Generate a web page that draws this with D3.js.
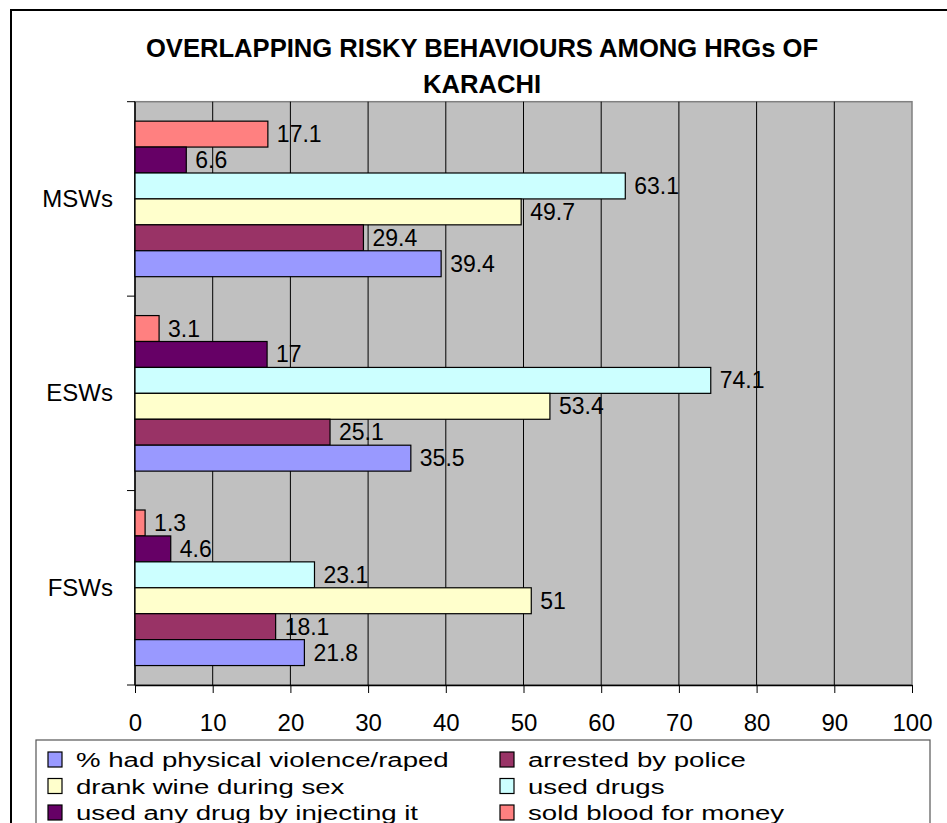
<!DOCTYPE html>
<html>
<head>
<meta charset="utf-8">
<script src="https://cdn.jsdelivr.net/npm/d3@7"></script>
<style>
  html, body { margin: 0; padding: 0; background: #fff; }
  svg { display: block; }
  text { font-family: Arial, "Liberation Sans", sans-serif; fill: #000; }
</style>
</head>
<body>
<svg id="chart" width="947" height="823"></svg>
<script>
const titleLines = ["OVERLAPPING RISKY BEHAVIOURS AMONG HRGs OF", "KARACHI"];
const categories = ["MSWs", "ESWs", "FSWs"];
const seriesNames = [
  "% had physical violence/raped",
  "arrested by police",
  "drank wine during sex",
  "used drugs",
  "used any drug by injecting it",
  "sold blood for money"
];
const seriesColors = ["#9999FF", "#993366", "#FFFFCC", "#CCFFFF", "#660066", "#FF8080"];
// values in order MSWs, ESWs, FSWs
const physicalViolence = [39.4, 35.5, 21.8];
const arrestedByPolice = [29.4, 25.1, 18.1];
const drankWine = [49.7, 53.4, 51];
const usedDrugs = [63.1, 74.1, 23.1];
const injectingDrugs = [6.6, 17, 4.6];
const soldBlood = [17.1, 3.1, 1.3];
const xTicks = [0, 10, 20, 30, 40, 50, 60, 70, 80, 90, 100];

const seriesValues = [physicalViolence, arrestedByPolice, drankWine, usedDrugs, injectingDrugs, soldBlood];

const svg = d3.select("#chart");

// outer chart border
svg.append("rect").attr("x", 11).attr("y", 10).attr("width", 942).attr("height", 830)
  .attr("fill", "#fff").attr("stroke", "#000").attr("stroke-width", 2);

// title
svg.append("g").selectAll("text").data(titleLines).join("text")
  .attr("x", 482).attr("y", (d, i) => 57 + i * 36)
  .attr("text-anchor", "middle")
  .attr("font-size", 25.6).attr("font-weight", "bold")
  .text(d => d);

const plot = { left: 135, right: 912, top: 101.7, bottom: 685 };

const x = d3.scaleLinear().domain([0, 100]).range([plot.left, plot.right]);
const y0 = d3.scaleBand().domain(categories).range([plot.top, plot.bottom])
  .paddingInner(0.2).paddingOuter(0.1);
// top-to-bottom order inside each group is reverse of series order
const order = seriesNames.map((d, i) => i).reverse();
const y1 = d3.scaleBand().domain(order).range([0, y0.bandwidth()]);

// plot background
svg.append("rect").attr("x", plot.left).attr("y", plot.top)
  .attr("width", plot.right - plot.left).attr("height", plot.bottom - plot.top)
  .attr("fill", "#C0C0C0").attr("stroke", "#808080").attr("stroke-width", 1.5);

// vertical grid lines
svg.append("g").selectAll("line").data(xTicks.slice(1, -1)).join("line")
  .attr("x1", d => x(d)).attr("x2", d => x(d))
  .attr("y1", plot.top).attr("y2", plot.bottom)
  .attr("stroke", "#000").attr("stroke-width", 1);

// x axis
const xAxis = d3.axisBottom(x).tickValues(xTicks).tickSize(8).tickSizeOuter(0).tickPadding(4);
const gx = svg.append("g").attr("transform", `translate(0,${plot.bottom})`).call(xAxis);
gx.select(".domain").attr("stroke", "#000").attr("stroke-width", 1.5);
gx.selectAll(".tick line").attr("stroke", "#000");
gx.selectAll(".tick text").attr("font-size", 24).attr("font-family", "Arial, 'Liberation Sans', sans-serif")
  .attr("fill", "#000").attr("dy", null).attr("y", 46);

// y axis line + category boundary ticks
svg.append("line").attr("x1", plot.left).attr("x2", plot.left)
  .attr("y1", plot.top).attr("y2", plot.bottom).attr("stroke", "#000").attr("stroke-width", 1.5);
const boundaries = categories.map(c => y0(c) - y0.step() * y0.paddingOuter()).concat([plot.bottom]);
svg.append("g").selectAll("line").data(boundaries).join("line")
  .attr("x1", plot.left - 8).attr("x2", plot.left)
  .attr("y1", d => d).attr("y2", d => d)
  .attr("stroke", "#000").attr("stroke-width", 1);

// category labels
svg.append("g").selectAll("text").data(categories).join("text")
  .attr("x", plot.left - 22).attr("y", d => y0(d) + y0.bandwidth() / 2 + 8)
  .attr("text-anchor", "end").attr("font-size", 24)
  .text(d => d);

// bars
const groups = svg.append("g").selectAll("g").data(categories).join("g")
  .attr("transform", d => `translate(0,${y0(d)})`);

groups.each(function(cat, ci) {
  const g = d3.select(this);
  const items = order.map(si => ({ si, v: seriesValues[si][ci] }));
  g.selectAll("rect").data(items).join("rect")
    .attr("x", x(0)).attr("y", d => y1(d.si))
    .attr("width", d => x(d.v) - x(0)).attr("height", y1.bandwidth())
    .attr("fill", d => seriesColors[d.si]).attr("stroke", "#000").attr("stroke-width", 1.2);
  g.selectAll("text").data(items).join("text")
    .attr("x", d => x(d.v) + 9).attr("y", d => y1(d.si) + y1.bandwidth() / 2 + 8)
    .attr("font-size", 23)
    .text(d => d.v);
});

// legend
const legend = svg.append("g");
legend.append("rect").attr("x", 36).attr("y", 740).attr("width", 894).attr("height", 120)
  .attr("fill", "#fff").attr("stroke", "#555").attr("stroke-width", 1.2);
const legendItems = seriesNames.map((name, i) => ({ name, i }));
const li = legend.selectAll("g.item").data(legendItems).join("g")
  .attr("class", "item")
  .attr("transform", d => `translate(${48 + (d.i % 2) * 452},${752 + Math.floor(d.i / 2) * 26.5})`);
li.append("rect").attr("x", 0).attr("y", 0).attr("width", 14).attr("height", 15)
  .attr("fill", d => seriesColors[d.i]).attr("stroke", "#000").attr("stroke-width", 1.2);
li.append("text").attr("transform", "translate(28,15) scale(1.38,1)")
  .attr("font-size", 20)
  .text(d => d.name);
</script>
</body>
</html>
